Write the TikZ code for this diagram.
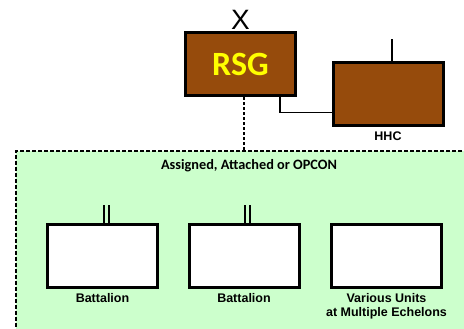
\documentclass[tikz,border=0pt]{standalone}
\usepackage{fontspec}
\setmainfont{Liberation Sans}
\newfontfamily\calfont{Carlito}
\usetikzlibrary{positioning}
\definecolor{rsgbrown}{HTML}{964B0C}
\definecolor{areagreen}{HTML}{CCFFCC}
\definecolor{rsgyellow}{HTML}{FFFF00}
\tikzset{
  unit/.style={draw=black,line width=3pt,minimum width=110pt,minimum height=63pt,inner sep=0pt},
  hq/.style={unit,fill=rsgbrown},
  sub/.style={unit,fill=white},
  lbl/.style={font=\bfseries\fontsize{12.5}{14}\selectfont,align=center,inner sep=1pt},
  ech/.style={line width=2pt},
  area/.style={draw=black,line width=1.6pt,dash pattern=on 4pt off 2pt,fill=areagreen}
}
\begin{document}
\begin{tikzpicture}[x=1pt,y=-1pt]
\clip (0,0) rectangle (464,329);
% support area
\node[area,anchor=north west,minimum width=480pt,minimum height=200pt] (grp) at (15,150) {};
\node[font=\calfont\bfseries\fontsize{14.3}{16}\selectfont] (grplbl) at (249,166) {Assigned, Attached or OPCON};
% headquarters
\node[hq] (rsg) at (240.5,64.5) {\calfont\bfseries\fontsize{34}{36}\selectfont\color{rsgyellow}RSG};
\node[font=\fontsize{28}{28}\selectfont,inner sep=0pt,above=2pt of rsg] (rsgech) {X};
\node[hq] (hhc) at (388,94.5) {};
\node[lbl,below=3pt of hhc] (hhclbl) {HHC};
% subordinate units
\node[sub] (bat1) at (102.5,256) {};
\node[sub] (bat2) at (244,256) {};
\node[sub] (units) at (386.5,256) {};
\node[lbl,below=3pt of bat1] (bat1lbl) {Battalion};
\node[lbl,below=3pt of bat2] (bat2lbl) {Battalion};
\node[lbl,below=3pt of units] (unitslbl) {Various Units\\at Multiple Echelons};
% echelon marks
\draw[ech] ([xshift=4pt]hhc.north) -- ++(0pt,22pt);
\foreach \b in {bat1,bat2}
  \draw[ech] ([xshift=1pt]\b.north) -- ++(0pt,18pt) ([xshift=6pt]\b.north) -- ++(0pt,18pt);
% links
\draw[line width=1.4pt] ([xshift=39.5pt]rsg.south) |- ([yshift=-18pt]hhc.west);
\draw[line width=1.4pt,dash pattern=on 3pt off 2pt] ([xshift=3.5pt]rsg.south) -- ([xshift=3.5pt]rsg.south |- grp.north);
\end{tikzpicture}
\end{document}
